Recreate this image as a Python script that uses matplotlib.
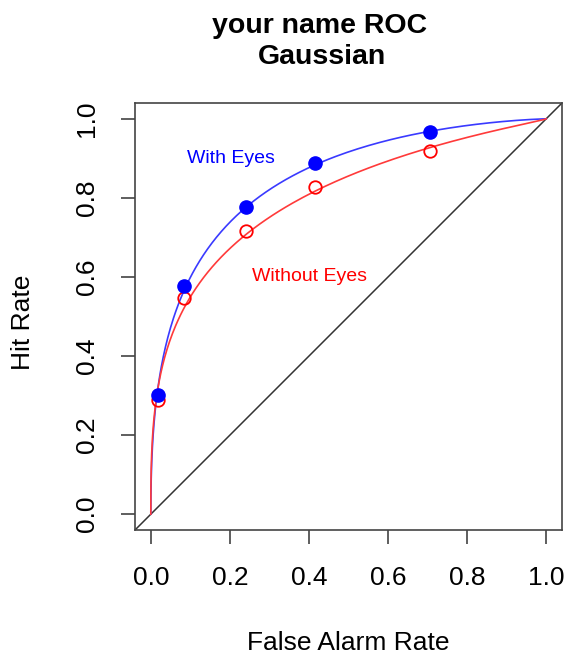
import math
import numpy as np
import matplotlib
matplotlib.use('Agg')
import matplotlib.pyplot as plt

plt.rcParams['font.family'] = ['Liberation Sans', 'DejaVu Sans']

fa_rate = [0.017, 0.085, 0.240, 0.416, 0.706]
hit_with = [0.301, 0.577, 0.778, 0.889, 0.966]
hit_without = [0.289, 0.546, 0.715, 0.827, 0.919]

# gaussian (binormal) fit parameters: z(H) = a + b * z(F)
fit_with = (1.381, 0.882)
fit_without = (1.060, 0.730)

phi = np.vectorize(lambda z: 0.5 * (1 + math.erf(z / math.sqrt(2))))

def roc_curve(a, b):
    z = np.linspace(-7, 7, 600)
    return phi(z), phi(a + b * z)

fig = plt.figure(figsize=(5.65, 6.6), dpi=100)
ax = fig.add_axes([135 / 565, 130 / 660, 427 / 565, 427 / 660])

ax.axline((0, 0), (1, 1), color='#333333', lw=1.1)

x, y = roc_curve(*fit_with)
ax.plot(np.r_[0, x, 1], np.r_[0, y, 1], color='#3a3aff', lw=1.2)
x, y = roc_curve(*fit_without)
ax.plot(np.r_[0, x, 1], np.r_[0, y, 1], color='#ff3a3a', lw=1.2)

ax.plot(fa_rate, hit_with, 'o', color='blue', ms=9.5, zorder=5)
ax.plot(fa_rate, hit_without, 'o', mfc='none', mec='red', mew=1.3, ms=9, zorder=4)

ax.text(0.203, 0.899, 'With Eyes', color='blue', fontsize=14, ha='center', va='center')
ax.text(0.402, 0.601, 'Without Eyes', color='red', fontsize=14, ha='center', va='center')

ax.set_xlim(-0.04, 1.04)
ax.set_ylim(-0.04, 1.04)
ticks = [0.0, 0.2, 0.4, 0.6, 0.8, 1.0]
ax.set_xticks(ticks)
ax.set_yticks(ticks)
ax.set_xticklabels([f'{t:.1f}' for t in ticks])
ax.set_yticklabels([f'{t:.1f}' for t in ticks])
ax.tick_params(direction='out', length=10, width=1.1, color='#333333',
               labelsize=19, pad=16)
ax.tick_params(axis='y', labelrotation=90)
for lab in ax.get_yticklabels():
    lab.set_va('center')

for s in ax.spines.values():
    s.set_color('#444444')
    s.set_linewidth(1.2)

ax.set_xlabel('False Alarm Rate', fontsize=19)
ax.set_ylabel('Hit Rate', fontsize=19)
ax.xaxis.set_label_coords(0.5, -0.265)
ax.xaxis.label.set_va('center')
ax.yaxis.set_label_coords(-0.262, 0.487)
ax.yaxis.label.set_va('center')

fig.text(320 / 565, 1 - 26 / 660, 'your name ROC', fontsize=20.5,
         fontweight='bold', ha='center', va='center')
fig.text(322 / 565, 1 - 57 / 660, 'Gaussian', fontsize=20.5,
         fontweight='bold', ha='center', va='center')

fig.savefig('out.png', dpi=100)
